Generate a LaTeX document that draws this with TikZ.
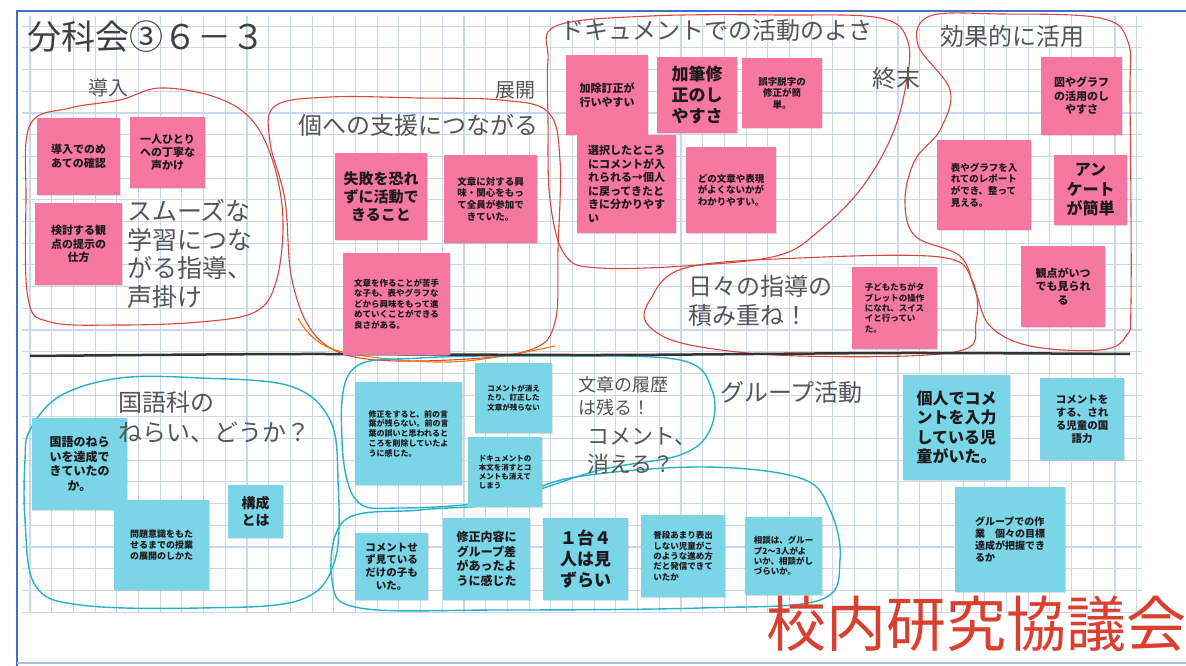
\documentclass[tikz,border=0pt]{standalone}
\usepackage{fontspec}
\usetikzlibrary{shadows}
\newfontfamily\jp{Noto Sans CJK JP}
\definecolor{pinkc}{RGB}{246,120,160}
\definecolor{cyanc}{RGB}{122,214,230}
\definecolor{gridc}{RGB}{202,215,240}
\definecolor{framec}{RGB}{66,112,200}
\definecolor{redc}{RGB}{214,72,62}
\definecolor{cyanl}{RGB}{40,178,200}
\definecolor{labelc}{RGB}{85,85,85}
\definecolor{notetext}{RGB}{30,25,30}
\definecolor{bigred}{RGB}{218,64,48}
\newcommand\stick[8]{%
  \pgfmathsetmacro\stx{(#3+#5)/2}%
  \pgfmathsetmacro\sty{(#4+#6)/2}%
  \pgfmathsetmacro\stw{#5-#3}%
  \pgfmathsetmacro\sth{#6-#4}%
  \pgfmathsetmacro\stl{#7*1.22}%
  \node[#1, minimum width=\stw pt, minimum height=\sth pt, font=\jp\bfseries\fontsize{#7}{\stl}\selectfont] (#2) at (\stx,\sty) {#8};}
\tikzset{
  notebase/.style={inner sep=2pt, align=center, text=notetext, drop shadow={shadow xshift=1.2pt, shadow yshift=-1.2pt, opacity=0.25}},
  pnote/.style={notebase, fill=pinkc},
  cnote/.style={notebase, fill=cyanc},
  lbl/.style={text=labelc, align=left, inner sep=0pt},
  redcurve/.style={draw=redc, line width=1.1pt},
  cyancurve/.style={draw=cyanl, line width=1.4pt},
}
\begin{document}
\begin{tikzpicture}[x=1pt,y=-1pt]
\useasboundingbox (0,0) rectangle (1186,666);
\fill[white] (0,0) rectangle (1186,666);
% grid
\foreach \i in {0,...,51} {\draw[gridc, line width=1.1pt] ({30+21.7*\i},16) -- ({30+21.7*\i},612);}
\foreach \j in {0,...,27} {\draw[gridc, line width=1.1pt] (22,{26.2+21.7*\j}) -- (1142,{26.2+21.7*\j});}
% frame
\draw[framec, line width=2.5pt] (1186,11) -- (17,11) -- (17,666);
\draw[framec!45, line width=1.5pt] (17,663) -- (1186,663);

% hand-drawn red regions
\draw[redcurve] plot[smooth cycle, tension=0.6] coordinates {(30,125) (70,108) (120,100) (160,88) (215,97) (252,120) (274,165) (283,222) (276,282) (255,312) (200,322) (120,325) (50,322) (28,298) (26,200)};
\draw[redcurve] plot[smooth cycle, tension=0.6] coordinates {(275,106) (330,97) (420,98) (500,100) (548,112) (560,160) (558,250) (555,322) (530,350) (450,360) (360,358) (315,335) (292,280) (285,200) (270,142)};
\draw[draw=orange!90!red, line width=1.1pt] plot[smooth, tension=0.6] coordinates {(298,318) (335,350) (450,362) (555,346)};
\draw[redcurve] plot[smooth cycle, tension=0.6] coordinates {(556,26) (650,16) (780,15) (880,18) (908,42) (905,90) (890,140) (860,190) (820,230) (780,255) (700,265) (600,268) (565,255) (550,200) (548,120) (548,60)};
\draw[redcurve] plot[smooth cycle, tension=0.6] coordinates {(650,300) (685,268) (800,258) (940,257) (972,280) (976,322) (955,352) (800,356) (690,345) (648,325)};
\draw[redcurve] plot[smooth cycle, tension=0.6] coordinates {(930,16) (1000,14) (1100,18) (1128,42) (1130,100) (1131,300) (1126,336) (1100,350) (1030,346) (990,326) (975,290) (960,256) (915,236) (905,200) (915,160) (940,130) (950,90) (918,45)};

% hand-drawn cyan regions
\draw[cyancurve] plot[smooth cycle, tension=0.6] coordinates {(30,430) (60,396) (120,378) (200,378) (290,386) (330,420) (338,480) (335,560) (300,600) (200,608) (80,605) (35,585) (25,520) (25,460)};
\draw[cyancurve] plot[smooth cycle, tension=0.6] coordinates {(352,370) (420,358) (550,356) (680,360) (712,390) (710,430) (680,455) (600,470) (500,500) (400,508) (356,500) (342,440)};
\draw[cyancurve] plot[smooth cycle, tension=0.6] coordinates {(345,520) (420,510) (500,503) (570,478) (700,467) (800,478) (830,510) (840,560) (820,600) (700,608) (500,610) (360,608) (332,580)};

% black divider
\draw[black!80, line width=2.5pt] plot[smooth] coordinates {(30,356) (300,354) (600,355) (900,353) (1130,354)};

% labels
\node[lbl, anchor=west, font=\jp\fontsize{34}{38}\selectfont, text=black!75] (title) at (27,37) {分科会③６－３};
\node[lbl, anchor=west, font=\jp\fontsize{20}{24}\selectfont] (donyu) at (88,88) {導入};
\node[lbl, anchor=west, font=\jp\fontsize{20}{24}\selectfont] (tenkai) at (495,90) {展開};
\node[lbl, anchor=west, font=\jp\fontsize{24}{28}\selectfont] (ko) at (298,125) {個への支援につながる};
\node[lbl, anchor=west, font=\jp\fontsize{24}{28}\selectfont] (doc) at (560,30) {ドキュメントでの活動のよさ};
\node[lbl, anchor=west, font=\jp\fontsize{24}{28}\selectfont] (koka) at (940,36) {効果的に活用};
\node[lbl, anchor=west, font=\jp\fontsize{24}{28}\selectfont] (shumatsu) at (872,78) {終末};
\node[lbl, anchor=west, font=\jp\fontsize{25}{28.5}\selectfont] (smooth) at (127,254) {スムーズな\\学習につな\\がる指導、\\声掛け};
\node[lbl, anchor=west, font=\jp\fontsize{24}{29}\selectfont] (hibi) at (688,301) {日々の指導の\\積み重ね！};
\node[lbl, anchor=west, font=\jp\fontsize{18}{23}\selectfont] (rireki) at (578,396) {文章の履歴\\は残る！};
\node[lbl, anchor=west, font=\jp\fontsize{22}{28}\selectfont] (kieru) at (587,451) {コメント、\\消える？};
\node[lbl, anchor=west, font=\jp\fontsize{24}{28}\selectfont] (group) at (720,392) {グループ活動};
\node[lbl, anchor=west, font=\jp\fontsize{60}{64}\selectfont, text=bigred] (kyogi) at (766,624) {校内研究協議会};

% pink notes
\stick{pnote}{p1}{37}{118}{120}{195}{11}{導入でのめ\\あての確認}
\stick{pnote}{p2}{130}{117}{205}{188}{11}{一人ひとり\\への丁寧な\\声かけ}
\stick{pnote}{p3}{35}{203}{122}{285}{11}{検討する観\\点の提示の\\仕方}
\stick{pnote}{p4}{335}{153}{427}{240}{15}{失敗を恐れ\\ずに活動で\\きること}
\stick{pnote}{p5}{444}{155}{537}{243}{9.5}{文章に対する興\\味・関心をもっ\\て全員が参加で\\きていた。}
\stick{pnote,align=left}{p6}{343}{253}{450}{355}{8.5}{文章を作ることが苦手\\な子も、表やグラフな\\どから興味をもって進\\めていくことができる\\良さがある。}
\stick{pnote}{p7}{566}{55}{648}{135}{11}{加除訂正が\\行いやすい}
\stick{pnote}{p8}{657}{57}{737}{133}{17}{加筆修\\正のし\\やすさ}
\stick{pnote}{p9}{742}{58}{822}{128}{9.5}{誤字脱字の\\修正が簡\\単。}
\stick{pnote,align=left}{p10}{577}{135}{676}{233}{11}{選択したところ\\にコメントが入\\れられる→個人\\に戻ってきたと\\きに分かりやす\\い}
\stick{pnote}{p11}{686}{147}{776}{233}{9.5}{どの文章や表現\\がよくないかが\\わかりやすい。}
\stick{pnote}{p12}{1041}{57}{1122}{135}{11}{図やグラフ\\の活用のし\\やすさ}
\stick{pnote,align=left}{p13}{937}{140}{1031}{230}{9.5}{表やグラフを入\\れてのレポート\\ができ、整って\\見える。}
\stick{pnote}{p14}{1054}{155}{1127}{225}{16}{アン\\ケート\\が簡単}
\stick{pnote}{p15}{1021}{246}{1105}{327}{11}{観点がいつ\\でも見られ\\る}
\stick{pnote,align=left}{p16}{852}{267}{937}{349}{8.5}{子どもたちがタ\\ブレットの操作\\になれ、スイス\\イと行ってい\\た。}

% cyan notes
\stick{cnote}{c1}{32}{418}{127}{510}{12}{国語のねら\\いを達成で\\きていたの\\か。}
\stick{cnote}{c2}{114}{500}{209}{590}{9}{問題意識をもた\\せるまでの授業\\の展開のしかた}
\stick{cnote}{c3}{228}{485}{283}{538}{14}{構成\\とは}
\stick{cnote,align=left}{c4}{355}{382}{462}{485}{8}{修正をすると、前の言\\葉が残らない。前の言\\葉の誤いと思われると\\ころを削除していたよ\\うに感じた。}
\stick{cnote}{c5}{475}{363}{552}{433}{7.5}{コメントが消え\\たり、訂正した\\文章が残らない}
\stick{cnote,align=left}{c6}{468}{437}{542}{507}{7.5}{ドキュメントの\\本文を消すとコ\\メントも消えて\\しまう}
\stick{cnote}{c7}{355}{533}{428}{600}{10.5}{コメントせ\\ず見ている\\だけの子も\\いた。}
\stick{cnote}{c8}{443}{518}{530}{600}{12}{修正内容に\\グループ差\\があったよ\\うに感じた}
\stick{cnote}{c9}{543}{518}{628}{600}{17}{１台４\\人は見\\ずらい}
\stick{cnote,align=left}{c10}{641}{515}{725}{597}{8.5}{普段あまり表出\\しない児童がこ\\のような進め方\\だと発信できて\\いたか}
\stick{cnote,align=left}{c11}{745}{517}{822}{595}{8.5}{相談は、グルー\\プ2～3人がよ\\いか、相談がし\\づらいか。}
\stick{cnote,align=left}{c12}{903}{375}{1010}{480}{16}{個人でコメ\\ントを入力\\している児\\童がいた。}
\stick{cnote}{c13}{1040}{378}{1124}{460}{10.5}{コメントを\\する、され\\る児童の国\\語力}
\stick{cnote,align=left}{c14}{955}{487}{1065}{592}{10}{グループでの作\\業　個々の目標\\達成が把握でき\\るか}

% label drawn over the note edge
\node[lbl, anchor=west, font=\jp\fontsize{24}{30}\selectfont] (kokugo) at (118,417) {国語科の\\ねらい、どうか？};
\end{tikzpicture}
\end{document}
